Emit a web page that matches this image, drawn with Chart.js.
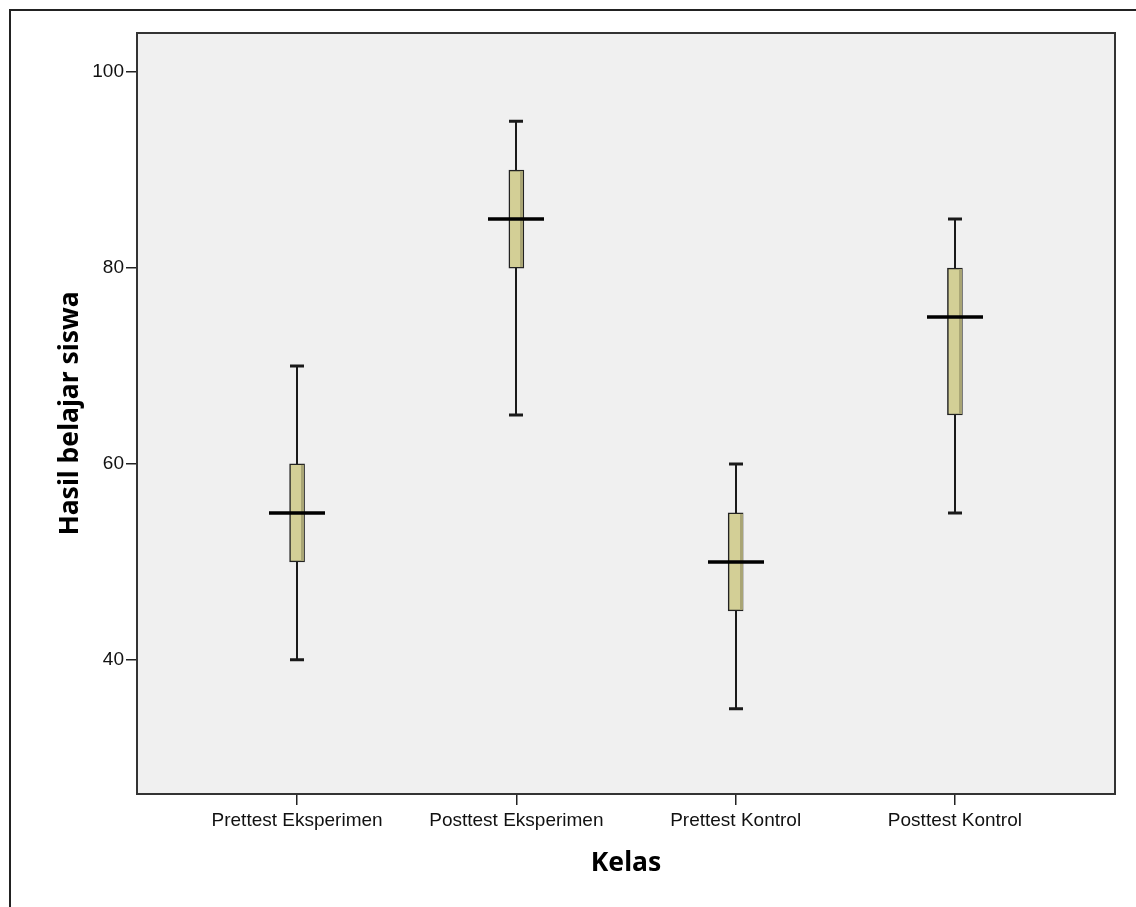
<!DOCTYPE html>
<html>
<head>
<meta charset="utf-8">
<script src="https://cdn.jsdelivr.net/npm/chart.js@4.4.1/dist/chart.umd.min.js"></script>
<style>
  html, body { margin: 0; padding: 0; background: #fff; }
  canvas { display: block; }
</style>
</head>
<body>
<canvas id="boxChart" width="1136" height="907"></canvas>
<script>
// data
const categories = ['Prettest Eksperimen', 'Posttest Eksperimen', 'Prettest Kontrol', 'Posttest Kontrol'];
const minVals    = [40, 65, 35, 55];
const q1Vals     = [50, 80, 45, 65];
const medianVals = [55, 85, 50, 75];
const q3Vals     = [60, 90, 55, 80];
const maxVals    = [70, 95, 60, 85];
const yTicks     = [40, 60, 80, 100];

const positions = categories.map((c, i) => i + 1);

// background, frames, whiskers and medians
const boxPlugin = {
  id: 'boxParts',
  beforeDraw(chart) {
    const ctx = chart.ctx;
    const a = chart.chartArea;
    ctx.save();
    ctx.fillStyle = '#f0f0f0';
    ctx.fillRect(a.left, a.top, a.right - a.left, a.bottom - a.top);
    // outer frame (runs off the right and bottom edges)
    ctx.strokeStyle = '#222';
    ctx.lineWidth = 2;
    ctx.beginPath();
    ctx.moveTo(10, chart.height + 5);
    ctx.lineTo(10, 10);
    ctx.lineTo(chart.width + 5, 10);
    ctx.stroke();
    ctx.restore();
  },
  beforeDatasetsDraw(chart) {
    const ctx = chart.ctx;
    const x = chart.scales.x, y = chart.scales.y;
    ctx.save();
    ctx.strokeStyle = '#1a1a1a';
    positions.forEach((p, i) => {
      const px = Math.round(x.getPixelForValue(p));
      const yMin = y.getPixelForValue(minVals[i]);
      const yMax = y.getPixelForValue(maxVals[i]);
      ctx.lineWidth = 2;
      ctx.beginPath();
      ctx.moveTo(px, yMin); ctx.lineTo(px, y.getPixelForValue(q1Vals[i]));
      ctx.moveTo(px, y.getPixelForValue(q3Vals[i])); ctx.lineTo(px, yMax);
      ctx.stroke();
      ctx.lineWidth = 3;
      ctx.beginPath();
      ctx.moveTo(px - 7, yMin); ctx.lineTo(px + 7, yMin);
      ctx.moveTo(px - 7, yMax); ctx.lineTo(px + 7, yMax);
      ctx.stroke();
    });
    ctx.restore();
  },
  afterDatasetsDraw(chart) {
    const ctx = chart.ctx;
    const x = chart.scales.x, y = chart.scales.y;
    const a = chart.chartArea;
    ctx.save();
    positions.forEach((p, i) => {
      const px = Math.round(x.getPixelForValue(p));
      // darker strip on the right side of the box
      const yTop = y.getPixelForValue(q3Vals[i]);
      const yBot = y.getPixelForValue(q1Vals[i]);
      ctx.fillStyle = '#a9a575';
      ctx.fillRect(px + 4, yTop + 1, 3, yBot - yTop - 2);
      // median
      const ym = Math.round(y.getPixelForValue(medianVals[i]));
      ctx.strokeStyle = '#000';
      ctx.lineWidth = 3.5;
      ctx.beginPath();
      ctx.moveTo(px - 28, ym); ctx.lineTo(px + 28, ym);
      ctx.stroke();
    });
    // plot frame
    ctx.strokeStyle = '#333';
    ctx.lineWidth = 2;
    ctx.strokeRect(a.left, a.top, a.right - a.left, a.bottom - a.top);
    ctx.restore();
  }
};

const ctx = document.getElementById('boxChart').getContext('2d');

new Chart(ctx, {
  type: 'bar',
  data: {
    datasets: [{
      label: 'Hasil belajar siswa',
      data: positions.map((p, i) => ({ x: p, y: [q1Vals[i], q3Vals[i]] })),
      backgroundColor: '#d3cf96',
      borderColor: '#222',
      borderWidth: 1.5,
      borderSkipped: false,
      barThickness: 15
    }]
  },
  options: {
    responsive: false,
    animation: false,
    layout: { padding: { top: 33, right: 21, bottom: 0, left: 0 } },
    plugins: {
      legend: { display: false },
      tooltip: { enabled: false }
    },
    scales: {
      x: {
        type: 'linear',
        offset: false,
        min: 0.27,
        max: 4.73,
        afterBuildTicks: s => { s.ticks = positions.map(v => ({ value: v })); },
        afterFit: s => { s.height = 113; },
        grid: { offset: false, drawOnChartArea: false, drawTicks: true, tickLength: 11, color: '#222', lineWidth: 1.5 },
        border: { display: false },
        ticks: {
          autoSkip: false,
          maxRotation: 0,
          padding: 4,
          color: '#111',
          font: { family: 'Liberation Sans', size: 19 },
          callback: v => categories[v - 1]
        },
        title: {
          display: true,
          text: 'Kelas',
          color: '#000',
          font: { family: 'Noto Sans', size: 26.5, weight: 'bold' },
          padding: { top: 0, bottom: 28 }
        }
      },
      y: {
        min: 26.3,
        max: 104,
        afterBuildTicks: s => { s.ticks = yTicks.map(v => ({ value: v })); },
        afterFit: s => { s.width = 137; },
        grid: { drawOnChartArea: false, drawTicks: true, tickLength: 11, color: '#222', lineWidth: 1.5 },
        border: { display: false },
        ticks: {
          padding: 2,
          color: '#111',
          font: { family: 'Liberation Sans', size: 19 }
        },
        title: {
          display: true,
          text: 'Hasil belajar siswa',
          color: '#000',
          font: { family: 'Noto Sans', size: 26.5, weight: 'bold' },
          padding: { top: 55, bottom: 0 }
        }
      }
    }
  },
  plugins: [boxPlugin]
});
</script>
</body>
</html>
